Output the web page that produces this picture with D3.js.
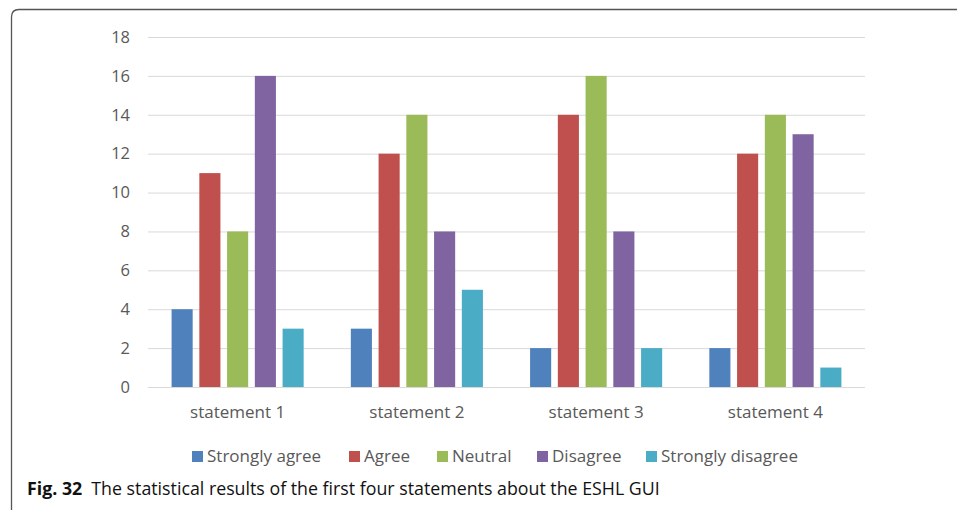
<!DOCTYPE html>
<html>
<head>
<meta charset="utf-8">
<script src="https://cdn.jsdelivr.net/npm/d3@7"></script>
<style>
  html, body { margin: 0; padding: 0; background: #fff; }
  svg { display: block; }
</style>
</head>
<body>
<svg id="chart" width="957" height="510"></svg>
<script>
// Survey responses for the first four statements
const categories = ["statement 1", "statement 2", "statement 3", "statement 4"];
const seriesNames = ["Strongly agree", "Agree", "Neutral", "Disagree", "Strongly disagree"];
const stronglyAgree = [4, 3, 2, 2];
const agree = [11, 12, 14, 12];
const neutral = [8, 14, 16, 14];
const disagree = [16, 8, 8, 13];
const stronglyDisagree = [3, 5, 2, 1];
const yTicks = [0, 2, 4, 6, 8, 10, 12, 14, 16, 18];
const colors = ["#4F81BD", "#C0504D", "#9BBB59", "#8064A2", "#4BACC6"];

const seriesValues = [stronglyAgree, agree, neutral, disagree, stronglyDisagree];

const svg = d3.select("#chart");
const font = "'Open Sans', 'Noto Sans', sans-serif";

// Figure frame with rounded top-left corner
svg.append("path")
  .attr("d", "M11.5,510 L11.5,17 Q11.5,9.5 19,9.5 L957,9.5")
  .attr("fill", "none")
  .attr("stroke", "#555")
  .attr("stroke-width", 1.3);

const plot = { left: 148, right: 865, top: 37, bottom: 387 };

const x0 = d3.scaleBand().domain(categories).range([plot.left, plot.right]).paddingInner(0).paddingOuter(0);
const x1 = d3.scaleBand().domain(seriesNames).range([0, x0.bandwidth()]).paddingInner(0.24).paddingOuter(0.85);
const y = d3.scaleLinear().domain([0, 18]).range([plot.bottom, plot.top]);

// Gridlines and value labels
const yAxis = d3.axisLeft(y).tickValues(yTicks).tickSize(-(plot.right - plot.left)).tickPadding(18);
const gy = svg.append("g").attr("transform", `translate(${plot.left},0)`).call(yAxis);
gy.select(".domain").remove();
gy.selectAll(".tick line").attr("stroke", "#d9d9d9").attr("stroke-width", 1);
gy.selectAll(".tick text")
  .attr("fill", "#595959")
  .style("font-family", font)
  .style("font-size", "16.5px");

// Baseline
svg.append("line")
  .attr("x1", plot.left).attr("x2", plot.right)
  .attr("y1", y(0) + 0.5).attr("y2", y(0) + 0.5)
  .attr("stroke", "#d9d9d9");

// Bars
const groups = svg.append("g").selectAll("g")
  .data(categories)
  .join("g")
  .attr("transform", d => `translate(${x0(d)},0)`);

groups.selectAll("rect")
  .data((c, ci) => seriesNames.map((s, si) => ({ s, si, v: seriesValues[si][ci] })))
  .join("rect")
  .attr("x", d => x1(d.s))
  .attr("width", x1.bandwidth())
  .attr("y", d => y(d.v))
  .attr("height", d => y(0) - y(d.v))
  .attr("fill", d => colors[d.si]);

// Category labels
const xAxis = d3.axisBottom(x0).tickSize(0).tickPadding(19);
const gx = svg.append("g").attr("transform", `translate(0,${plot.bottom})`).call(xAxis);
gx.select(".domain").remove();
gx.selectAll(".tick text")
  .attr("fill", "#595959")
  .style("font-family", font)
  .style("font-size", "17px");

// Legend
const legendX = [192, 349, 437, 537, 646];
const legend = svg.append("g").selectAll("g")
  .data(seriesNames)
  .join("g")
  .attr("transform", (d, i) => `translate(${legendX[i]},456)`);
legend.append("rect")
  .attr("x", 0).attr("y", -5).attr("width", 11).attr("height", 11)
  .attr("fill", (d, i) => colors[i]);
legend.append("text")
  .attr("x", 15).attr("y", 0).attr("dy", "0.35em")
  .attr("fill", "#595959")
  .style("font-family", font)
  .style("font-size", "17px")
  .text(d => d);

// Caption
const cap = svg.append("text")
  .attr("x", 27).attr("y", 495)
  .attr("fill", "#111")
  .style("font-family", font)
  .style("font-size", "17.8px");
cap.append("tspan").attr("font-weight", "bold").text("Fig. 32");
cap.append("tspan").attr("dx", 9).text("The statistical results of the first four statements about the ESHL GUI");
</script>
</body>
</html>
